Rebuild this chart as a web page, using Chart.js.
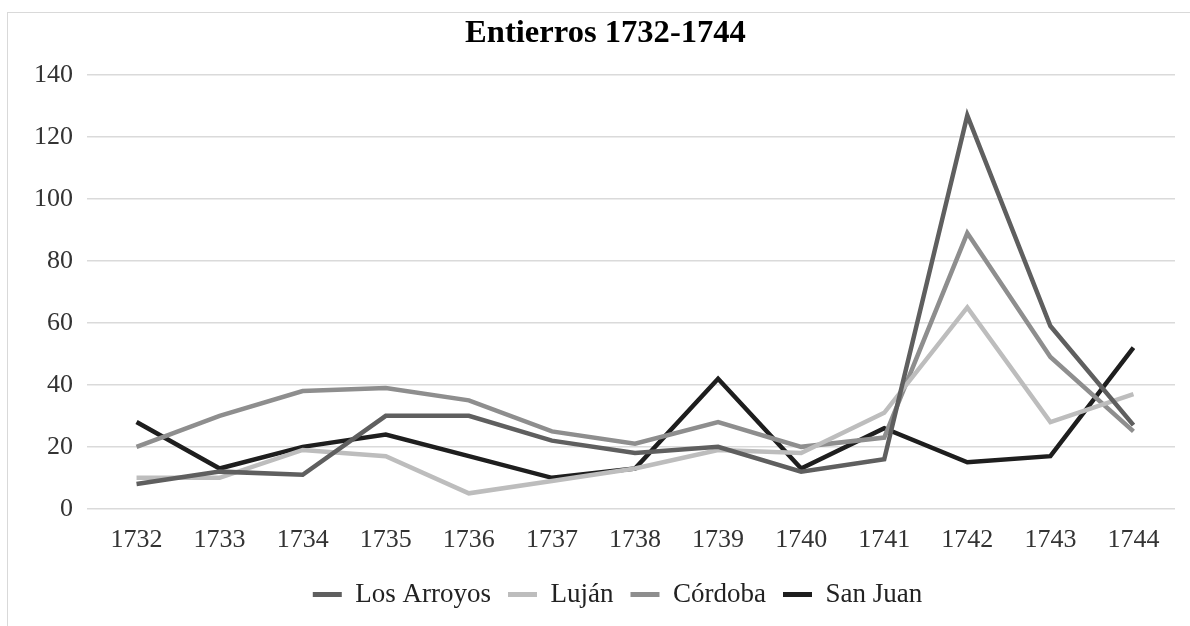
<!DOCTYPE html>
<html>
<head>
<meta charset="utf-8">
<script src="https://cdn.jsdelivr.net/npm/chart.js@4/dist/chart.umd.min.js"></script>
<style>
  html, body { margin: 0; padding: 0; background: #fff; overflow: hidden; }
  #frame { position: absolute; left: 7px; top: 12px; width: 1200px; height: 640px; border: 1px solid #d9d9d9; }
  #wrap { position: absolute; left: 0; top: 0; width: 1190px; height: 626px; }
</style>
</head>
<body>
<div id="frame"></div>
<div id="wrap"><canvas id="chartEntierros"></canvas></div>
<script>
// Entierros por año
const years = ['1732', '1733', '1734', '1735', '1736', '1737', '1738', '1739', '1740', '1741', '1742', '1743', '1744'];
const losArroyos = [8, 12, 11, 30, 30, 22, 18, 20, 12, 16, 127, 59, 27];
const lujan = [10, 10, 19, 17, 5, 9, 13, 19, 18, 31, 65, 28, 37];
const cordoba = [20, 30, 38, 39, 35, 25, 21, 28, 20, 23, 89, 49, 25];
const sanJuan = [28, 13, 20, 24, 17, 10, 13, 42, 13, 26, 15, 17, 52];
const yTicks = [0, 20, 40, 60, 80, 100, 120, 140];

const serif = '"Liberation Serif", "Times New Roman", serif';

function serie(label, data, color) {
    return {
        label: label,
        data: data,
        borderColor: color,
        backgroundColor: color,
        borderWidth: 4.5,
        pointRadius: 0,
        pointHoverRadius: 0,
        pointBorderWidth: 5,
        tension: 0,
        fill: false
    };
}

// titulo y leyenda del original estan un poco corridos a la derecha
const shiftBoxes = {
    id: 'shiftBoxes',
    afterLayout(chart) {
        chart.legend.left += 30;
        chart.legend.right += 30;
        chart.titleBlock.left += 18;
        chart.titleBlock.right += 18;
    }
};

const ctx = document.getElementById('chartEntierros').getContext('2d');
new Chart(ctx, {
    type: 'line',
    data: {
        labels: years,
        datasets: [
            serie('Los Arroyos', losArroyos, '#5f5f5f'),
            serie('Luján', lujan, '#bdbdbd'),
            serie('Córdoba', cordoba, '#8e8e8e'),
            serie('San Juan', sanJuan, '#1e1e1e')
        ]
    },
    plugins: [shiftBoxes],
    options: {
        responsive: true,
        maintainAspectRatio: false,
        animation: false,
        layout: { padding: { left: 0, right: 15, top: 0, bottom: 8 } },
        plugins: {
            title: {
                display: true,
                text: 'Entierros 1732-1744',
                color: '#000',
                font: { family: serif, size: 32.6, weight: 'bold' },
                padding: { top: 14.5, bottom: 21.5 }
            },
            legend: {
                position: 'bottom',
                labels: {
                    usePointStyle: true,
                    pointStyle: 'line',
                    pointStyleWidth: 29,
                    color: '#222',
                    padding: 17,
                    font: { family: serif, size: 27 }
                }
            },
            tooltip: { enabled: false }
        },
        scales: {
            x: {
                offset: true,
                grid: { display: false },
                border: { display: false },
                ticks: { color: '#333', padding: 8, font: { family: serif, size: 26 } }
            },
            y: {
                min: 0,
                max: 140,
                afterFit: function(scale) { scale.width = 95; },
                afterBuildTicks: function(scale) { scale.ticks = yTicks.map(v => ({ value: v })); },
                grid: { color: '#dadada', lineWidth: 1.5, tickLength: 8, tickColor: '#dadada' },
                border: { display: false },
                ticks: { color: '#333', padding: 14, font: { family: serif, size: 26 } }
            }
        }
    }
});
</script>
</body>
</html>
